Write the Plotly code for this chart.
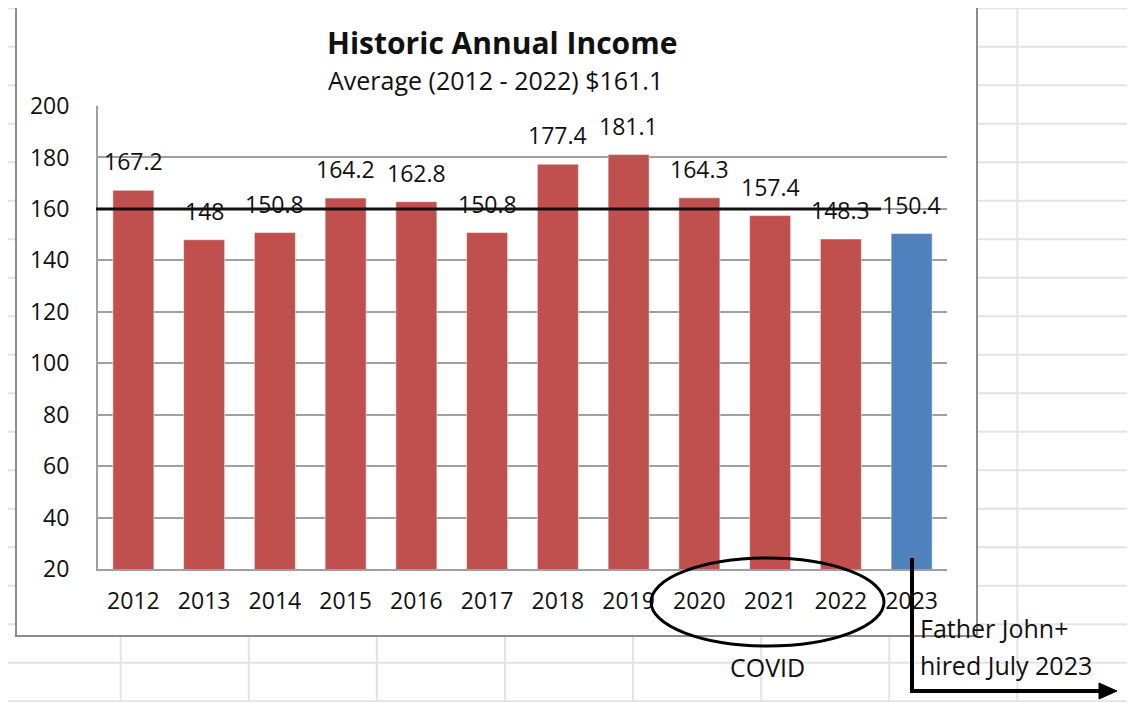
import plotly.graph_objects as go

# values
years = ["2012", "2013", "2014", "2015", "2016", "2017",
         "2018", "2019", "2020", "2021", "2022", "2023"]
income = [167.2, 148, 150.8, 164.2, 162.8, 150.8,
          177.4, 181.1, 164.3, 157.4, 148.3, 150.4]
bar_colors = ["#C0504D"] * 11 + ["#4F81BD"]
avg_line_y = 160
title_text = "<b>Historic Annual Income</b>"
subtitle_text = "Average (2012 - 2022) $161.1"
covid_text = "COVID"
note_lines = ["Father John+", "hired July 2023"]

W, H = 1135, 702
OFF = 8  # the page body margin shifts the figure by 8px
PL, PR, PT, PB = 98, 947, 106, 569  # plot area in screenshot pixels
FONT = "Open Sans"


def px_x(p):
    return (p - PL) / (PR - PL)


def px_y(p):
    return (PB - p) / (PB - PT)


fig = go.Figure()
fig.add_trace(go.Bar(x=years, y=income, marker_color=bar_colors,
                     marker_line=dict(color="rgba(255,255,255,0.5)", width=1),
                     showlegend=False, hoverinfo="x+y"))

shapes = []
# spreadsheet grid behind the chart
grid_col = "#e3e3e3"
for k in range(19):
    y = 8.3 + 38.5 * k
    shapes.append(dict(type="line", xref="paper", yref="paper", layer="below",
                       x0=px_x(8), x1=px_x(W + 10), y0=px_y(y), y1=px_y(y),
                       line=dict(color=grid_col, width=2)))
for k in range(8):
    x = 120.7 + 128.1 * k
    shapes.append(dict(type="line", xref="paper", yref="paper", layer="below",
                       x0=px_x(x), x1=px_x(x), y0=px_y(OFF), y1=px_y(H + 10),
                       line=dict(color=grid_col, width=2)))
# chart area
shapes.append(dict(type="rect", xref="paper", yref="paper", layer="below",
                   x0=px_x(16), x1=px_x(977), y0=px_y(7), y1=px_y(636),
                   fillcolor="white", line=dict(color="#8c8c8c", width=2)))
# average line
shapes.append(dict(type="line", xref="paper", yref="y",
                   x0=px_x(96), x1=px_x(881), y0=avg_line_y, y1=avg_line_y,
                   line=dict(color="#111111", width=3)))
# covid ellipse
shapes.append(dict(type="circle", xref="paper", yref="paper",
                   x0=px_x(651), x1=px_x(884), y0=px_y(558), y1=px_y(646),
                   line=dict(color="black", width=3)))
# arrow
shapes.append(dict(type="path", xref="paper", yref="paper",
                   path="M {},{} L {},{} L {},{}".format(
                       px_x(912), px_y(558), px_x(912), px_y(691),
                       px_x(1102), px_y(691)),
                   line=dict(color="black", width=4)))
shapes.append(dict(type="path", xref="paper", yref="paper",
                   path="M {},{} L {},{} L {},{} Z".format(
                       px_x(1099), px_y(683), px_x(1117), px_y(691),
                       px_x(1099), px_y(699)),
                   fillcolor="black", line=dict(color="black", width=1)))

annotations = []
# data labels: category index as x (numeric-looking strings confuse annotations)
for i, v in enumerate(income):
    annotations.append(dict(x=i, y=v, xref="x", yref="y", text=f"{v:g}",
                            showarrow=False, xanchor="center",
                            yanchor="bottom", yshift=11,
                            font=dict(family=FONT, size=23, color="#111")))


def note(text, x, y, size, xanchor="center"):
    annotations.append(dict(x=px_x(x), y=px_y(y), xref="paper", yref="paper",
                            text=text, showarrow=False, xanchor=xanchor,
                            yanchor="middle",
                            font=dict(family=FONT, size=size, color="#111")))


note(title_text, 502, 43, 30)
note(subtitle_text, 495, 80, 25)
note(covid_text, 767, 667, 25)
for i, line in enumerate(note_lines):
    note(line, 918, 628 + 37 * i, 25, xanchor="left")

fig.update_layout(
    width=W, height=H,
    margin=dict(l=PL - OFF, r=W - PR + OFF, t=PT - OFF, b=H - PB + OFF, pad=0),
    paper_bgcolor="white", plot_bgcolor="rgba(0,0,0,0)",
    bargap=0.42,
    shapes=shapes, annotations=annotations,
    font=dict(family=FONT, size=23, color="#111"),
)
fig.update_xaxes(type="category", range=[-0.5, len(years) - 0.5],
                 showgrid=False, showline=True,
                 linecolor="#a0a0a0", linewidth=2, ticks="",
                 ticklabelstandoff=10,
                 tickfont=dict(family=FONT, size=23, color="#111"))
fig.update_yaxes(range=[20, 200], dtick=20, showgrid=True,
                 gridcolor="#a0a0a0", gridwidth=2, showline=True,
                 linecolor="#a0a0a0", linewidth=2, ticks="",
                 ticklabelstandoff=22, zeroline=False,
                 tickfont=dict(family=FONT, size=23, color="#111"))

fig.write_html("out.html")
